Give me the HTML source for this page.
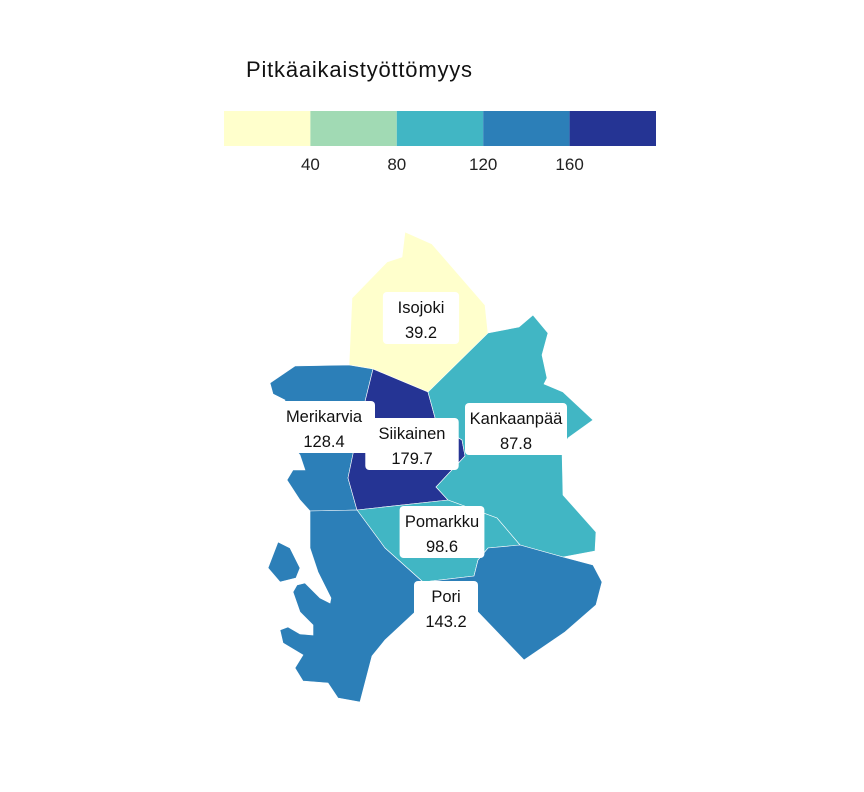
<!DOCTYPE html>
<html><head><meta charset="utf-8"><style>
body{margin:0;background:#fff;}
svg{display:block;font-family:"Liberation Sans","DejaVu Sans",sans-serif;}
</style></head><body>
<svg id="chart" width="864" height="792" viewBox="0 0 864 792">
<text x="246" y="77" font-size="22" fill="#111" textLength="226">Pitkäaikaistyöttömyys</text>
<g id="legend"></g>
<g id="regions"></g>
<g id="labels"></g>
</svg>
<script>
const breaks = [40, 80, 120, 160];
const colors = ["#ffffcc", "#a1dab4", "#41b6c4", "#2c7fb8", "#253494"];
const tickLabels = ["40", "80", "120", "160"];
const names = ["Isojoki", "Merikarvia", "Siikainen", "Kankaanpää", "Pomarkku", "Pori"];
const values = [39.2, 128.4, 179.7, 87.8, 98.6, 143.2];

const shapes = {
"Isojoki": [[[405,232],[432,244],[485,305],[488,333],[470,358],[428,392],[373,369],[349,365],[352,298],[387,262],[402,257]]],
"Merikarvia": [[[310,511],[357,510],[348,478],[358,430],[373,369],[349,365],[295,366],[270,383],[273,394],[285,400],[280,430],[300,455],[305,470],[293,470],[287,480],[300,500]],
  [[268,568],[278,542],[290,548],[300,568],[296,578],[280,582]]],
"Siikainen": [[[373,369],[428,392],[437,425],[462,440],[465,456],[436,487],[448,500],[357,510],[348,478],[358,430]]],
"Kankaanpää": [[[428,392],[488,333],[519,327],[533,315],[548,333],[542,355],[547,378],[544,384],[563,392],[593,420],[568,438],[562,450],[563,495],[596,532],[595,551],[563,557],[520,545],[497,518],[448,500],[436,487],[465,456],[462,440],[437,425]]],
"Pomarkku": [[[357,510],[448,500],[497,518],[520,545],[488,548],[478,560],[474,576],[423,582],[385,548]]],
"Pori": [[[310,511],[357,510],[385,548],[423,582],[474,576],[478,560],[488,548],[520,545],[563,557],[593,565],[602,582],[596,605],[565,632],[524,660],[478,612],[415,612],[385,640],[372,656],[360,702],[338,698],[328,683],[303,681],[295,668],[303,655],[283,643],[280,630],[288,627],[300,634],[313,635],[313,625],[300,612],[293,592],[297,585],[305,583],[320,598],[330,603],[331,598],[318,572],[310,548]]]
};
const labelPos = {"Isojoki":[421,318],"Merikarvia":[324,427],"Siikainen":[412,444],"Kankaanpää":[516,429],"Pomarkku":[442,532],"Pori":[446,607]};

const NS = "http://www.w3.org/2000/svg";
function colorFor(v){let i=0;while(i<breaks.length&&v>=breaks[i])i++;return colors[i];}
const lx0=224, lw=432, ly=111, lh=35, lmin=0, lmax=200;
const xs = v => lx0 + (v - lmin) / (lmax - lmin) * lw;
const lg = document.getElementById("legend");
const edges=[lmin,...breaks,lmax];
colors.forEach((c,i)=>{
  const r=document.createElementNS(NS,"rect");
  r.setAttribute("x",xs(edges[i]));r.setAttribute("y",ly);
  r.setAttribute("width",xs(edges[i+1])-xs(edges[i]));r.setAttribute("height",lh);
  r.setAttribute("fill",c);
  
  
  lg.appendChild(r);
});
breaks.forEach((b,i)=>{
  const t=document.createElementNS(NS,"text");
  t.setAttribute("x",xs(b));t.setAttribute("y",170);
  t.setAttribute("text-anchor","middle");t.setAttribute("font-size","17");t.setAttribute("fill","#222");
  t.textContent=tickLabels[i];
  
  
  lg.appendChild(t);
});
const rg=document.getElementById("regions"), lb=document.getElementById("labels");
names.forEach((n,i)=>{
  const d=shapes[n].map(p=>"M"+p.map(q=>q.join(",")).join("L")+"Z").join("");
  const path=document.createElementNS(NS,"path");
  path.setAttribute("d",d);path.setAttribute("fill",colorFor(values[i]));
  path.setAttribute("stroke","#ffffff");path.setAttribute("stroke-width","0.6");
  
  
  rg.appendChild(path);
});
names.forEach((n,i)=>{
  const [cx,cy]=labelPos[n];
  const g=document.createElementNS(NS,"g");
  
  
  const w=Math.max(n.length*8.6+16,64);
  const r=document.createElementNS(NS,"rect");
  r.setAttribute("x",cx-w/2);r.setAttribute("y",cy-26);r.setAttribute("width",w);r.setAttribute("height",52);
  r.setAttribute("rx",4);r.setAttribute("fill","#fff");
  g.appendChild(r);
  [n,values[i].toFixed(1)].forEach((s,k)=>{
    const t=document.createElementNS(NS,"text");
    t.setAttribute("x",cx);t.setAttribute("y",cy-5+k*25);
    t.setAttribute("text-anchor","middle");t.setAttribute("font-size","16.5");t.setAttribute("fill","#111");
    t.textContent=s;g.appendChild(t);
  });
  lb.appendChild(g);
});
</script>
</body></html>
